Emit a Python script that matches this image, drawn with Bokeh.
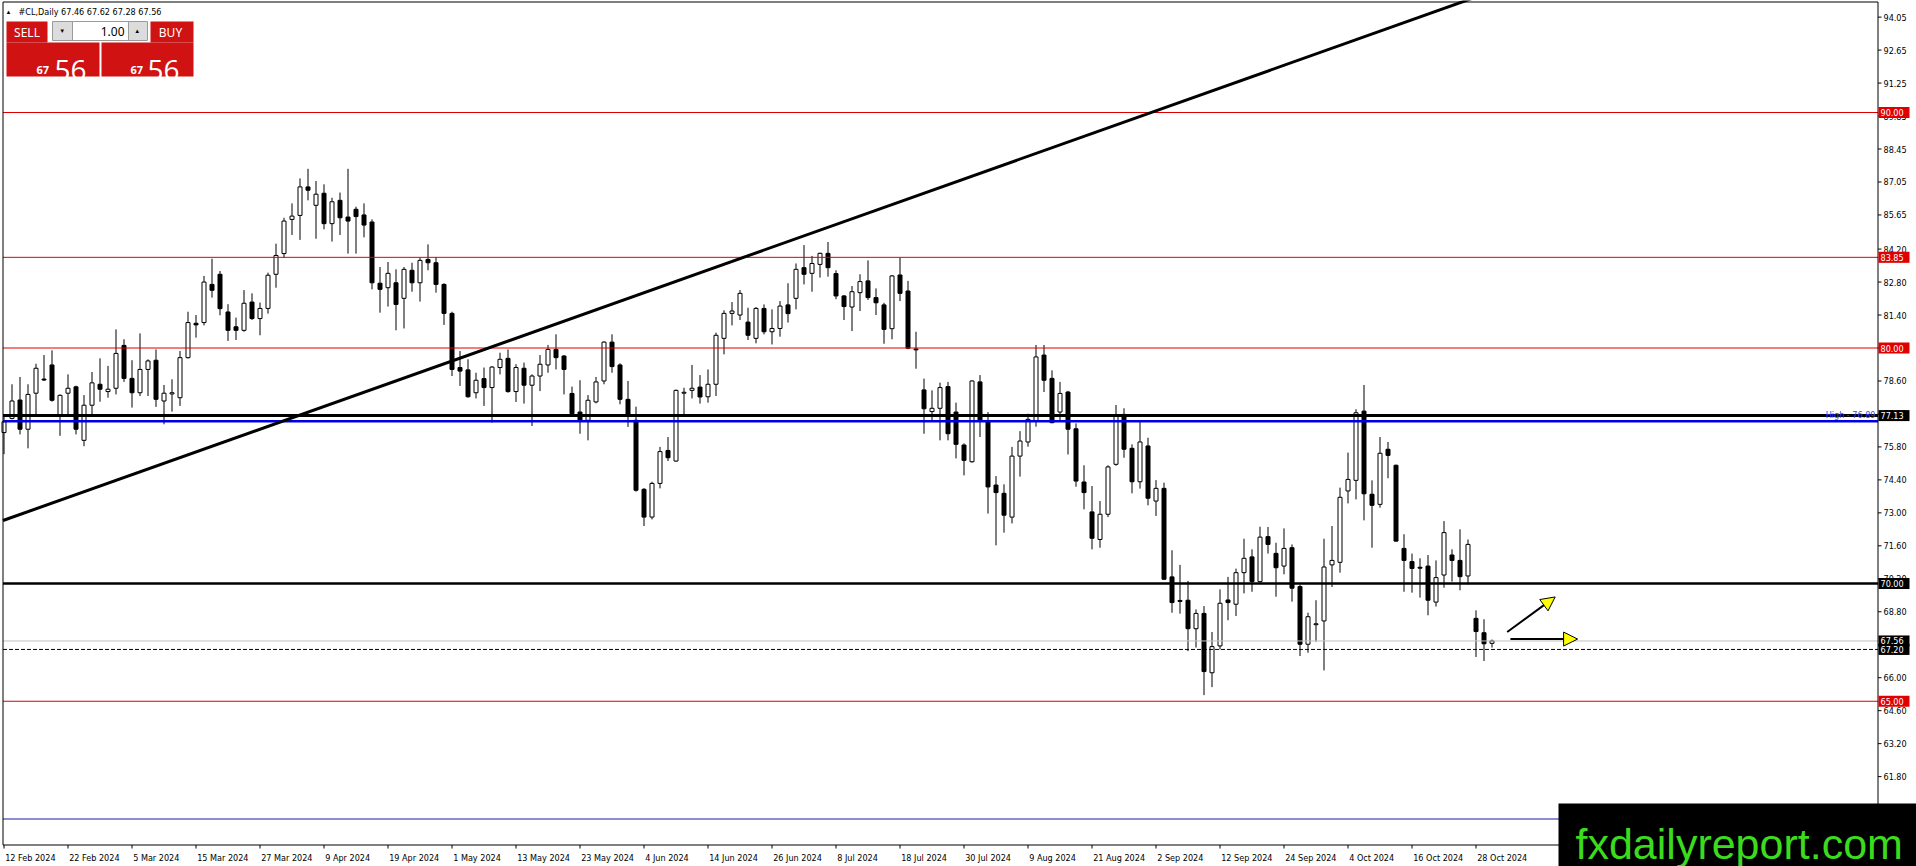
from bokeh.plotting import figure
from bokeh.models import Arrow, NormalHead
from bokeh.core.properties import value
from bokeh.embed import file_html
from bokeh.resources import INLINE

# ---------------- data ----------------
opens = [76.41, 77.01, 77.79, 76.55, 78.08, 78.68, 79.28, 77.15, 78.08, 78.35,
         76.08, 77.57, 78.46, 78.15, 78.29, 80.11, 78.71, 78.10, 79.09, 79.48,
         77.75, 78.05, 77.89, 79.59, 81.05, 81.08, 82.70, 83.13, 81.53, 80.90,
         80.75, 81.95, 81.25, 81.68, 83.13, 84.01, 85.46, 85.63, 86.84, 86.06,
         86.57, 85.28, 86.27, 85.56, 85.89, 85.65, 85.35, 82.75, 82.56, 82.77,
         82.11, 83.30, 82.77, 83.76, 83.62, 82.70, 81.47, 79.17, 79.07, 78.10,
         78.70, 78.32, 79.17, 79.56, 78.15, 79.14, 78.42, 78.81, 79.28, 79.94,
         79.66, 78.07, 77.28, 76.93, 77.71, 78.60, 80.25, 79.28, 77.82, 76.93,
         74.00, 72.82, 74.25, 75.65, 75.20, 78.08, 78.20, 78.34, 77.93, 78.46,
         80.41, 81.47, 81.40, 81.10, 80.41, 81.68, 80.69, 80.83, 81.83, 82.11,
         83.41, 83.17, 83.55, 84.02, 83.16, 82.21, 81.74, 82.35, 82.85, 82.14,
         81.83, 80.82, 83.10, 82.42, 79.96, 78.22, 77.30, 77.44, 78.36, 77.28,
         75.88, 75.17, 78.56, 76.87, 74.18, 73.83, 72.82, 75.41, 76.01, 76.90,
         79.70, 78.71, 77.28, 78.13, 76.57, 74.31, 73.04, 71.87, 72.94, 75.06,
         77.18, 75.74, 74.32, 75.84, 73.50, 74.04, 70.28, 69.28, 69.29, 68.08,
         68.73, 66.21, 67.35, 69.30, 69.12, 70.46, 71.13, 70.08, 71.99, 71.28,
         70.74, 71.52, 69.87, 67.42, 68.25, 68.41, 70.79, 70.90, 73.93, 74.38,
         77.32, 73.79, 73.36, 75.70, 75.02, 71.49, 70.93, 70.69, 70.74, 69.21,
         70.36, 71.21, 70.98, 70.32, 68.52, 67.91, 67.46]
highs = [77.11, 78.46, 78.77, 78.46, 79.33, 79.70, 79.90, 78.03, 78.88, 78.40,
         78.00, 78.98, 79.56, 79.24, 80.79, 80.37, 79.48, 80.62, 79.52, 79.94,
         78.43, 78.67, 79.87, 81.54, 81.40, 83.06, 83.79, 83.27, 81.86, 81.29,
         82.46, 82.32, 81.93, 83.20, 84.43, 85.53, 86.14, 87.20, 87.61, 87.09,
         86.95, 86.38, 86.60, 87.61, 86.00, 86.14, 85.46, 83.44, 83.65, 83.34,
         83.44, 83.62, 83.84, 84.40, 83.86, 82.75, 81.54, 79.87, 79.52, 78.95,
         79.17, 79.23, 79.80, 79.94, 79.31, 79.38, 78.88, 79.70, 80.13, 80.58,
         79.70, 78.36, 78.63, 78.00, 78.77, 80.28, 80.58, 79.35, 78.60, 77.51,
         74.05, 74.32, 75.80, 76.22, 78.24, 78.31, 79.28, 78.85, 79.09, 80.65,
         81.60, 81.95, 82.46, 81.71, 81.74, 81.85, 81.64, 81.99, 82.75, 83.59,
         84.37, 83.91, 84.05, 84.50, 83.30, 82.25, 82.63, 83.13, 83.72, 82.53,
         81.92, 83.10, 83.84, 82.85, 80.69, 78.70, 78.20, 78.53, 78.56, 77.68,
         75.95, 78.63, 78.85, 77.28, 74.56, 74.21, 75.80, 76.47, 77.21, 80.13,
         80.13, 79.05, 78.56, 78.18, 76.80, 75.02, 74.14, 73.50, 75.02, 77.58,
         77.44, 75.91, 76.86, 76.19, 74.39, 74.28, 71.41, 70.79, 70.11, 68.90,
         69.04, 67.94, 69.75, 70.28, 70.63, 71.90, 71.45, 72.41, 72.40, 71.73,
         72.34, 71.66, 69.96, 68.76, 69.29, 71.90, 72.44, 74.07, 75.56, 77.40,
         78.43, 74.38, 76.22, 76.01, 75.05, 72.09, 71.27, 71.07, 71.21, 70.98,
         72.65, 71.45, 72.30, 71.87, 68.86, 68.48, 67.62]
lows = [75.49, 76.97, 76.33, 75.74, 77.18, 78.60, 77.72, 76.27, 77.11, 76.33,
        75.83, 77.18, 77.72, 77.89, 78.03, 78.56, 77.47, 77.96, 77.96, 77.50,
        76.76, 77.30, 77.54, 79.55, 80.44, 80.96, 82.14, 81.39, 80.30, 80.34,
        80.69, 81.19, 80.54, 81.46, 82.56, 83.84, 84.80, 84.59, 86.27, 84.64,
        85.04, 84.52, 84.80, 84.01, 84.01, 84.70, 82.49, 81.50, 81.76, 80.75,
        80.83, 82.39, 81.97, 83.30, 82.35, 80.98, 78.81, 78.39, 77.89, 77.86,
        77.54, 76.83, 78.88, 78.10, 77.71, 77.64, 76.69, 78.17, 78.95, 79.09,
        78.03, 77.15, 76.36, 76.08, 77.65, 78.46, 78.95, 77.61, 76.65, 73.90,
        72.44, 72.72, 74.04, 75.20, 75.17, 77.15, 77.86, 77.64, 77.68, 77.96,
        79.73, 80.96, 81.19, 80.34, 80.20, 80.58, 80.15, 80.48, 81.08, 81.64,
        82.70, 82.39, 82.99, 83.03, 82.07, 81.19, 80.72, 81.57, 82.04, 81.40,
        80.18, 80.37, 81.99, 79.95, 79.12, 76.36, 76.90, 76.08, 76.08, 75.31,
        74.59, 75.13, 76.22, 72.97, 71.62, 72.16, 72.55, 74.54, 75.81, 76.66,
        78.13, 76.80, 76.87, 75.48, 74.11, 73.15, 71.45, 71.52, 72.82, 75.00,
        75.34, 73.83, 74.03, 73.32, 72.87, 70.15, 68.76, 68.72, 67.13, 67.28,
        65.26, 65.60, 67.20, 68.44, 68.62, 69.58, 69.65, 70.03, 71.27, 69.44,
        70.39, 69.23, 66.92, 67.06, 67.53, 66.31, 69.85, 70.46, 73.40, 73.57,
        72.68, 71.52, 73.22, 74.47, 71.78, 69.65, 69.61, 69.40, 68.65, 69.02,
        69.82, 70.08, 69.71, 69.96, 66.88, 66.71, 67.28]
closes = [76.87, 77.75, 76.55, 78.03, 79.14, 78.64, 77.78, 77.99, 78.29, 76.55,
          77.57, 78.52, 78.25, 78.25, 79.77, 78.71, 78.10, 79.09, 79.45, 77.82,
          78.08, 78.10, 79.59, 81.08, 80.98, 82.80, 82.45, 81.67, 80.75, 80.75,
          81.90, 81.25, 81.68, 83.09, 83.93, 85.39, 85.60, 86.84, 86.70, 86.53,
          85.28, 86.21, 85.53, 85.39, 85.58, 85.22, 82.77, 82.49, 83.17, 81.85,
          83.34, 82.77, 83.72, 83.62, 82.70, 81.47, 79.09, 79.02, 77.93, 78.63,
          78.32, 79.19, 79.52, 78.15, 79.17, 78.42, 78.81, 79.31, 79.94, 79.59,
          79.09, 77.21, 76.93, 77.78, 78.56, 80.25, 79.21, 77.82, 77.14, 73.96,
          72.82, 74.25, 75.60, 75.34, 78.20, 78.12, 78.29, 77.92, 78.46, 80.54,
          81.47, 81.57, 82.32, 80.54, 81.68, 80.69, 80.83, 81.78, 81.46, 83.34,
          83.13, 83.59, 84.02, 83.41, 82.21, 81.76, 82.39, 82.82, 82.14, 81.92,
          80.79, 83.06, 82.32, 79.99, 79.92, 77.42, 77.44, 78.32, 76.36, 75.91,
          75.23, 78.60, 76.93, 74.10, 73.86, 72.90, 75.41, 76.05, 76.97, 79.62,
          78.63, 76.83, 78.07, 76.55, 74.35, 73.86, 71.92, 72.94, 74.95, 77.11,
          75.70, 74.32, 76.01, 73.62, 74.04, 70.18, 69.19, 69.24, 68.08, 68.73,
          66.26, 67.32, 69.16, 69.19, 70.46, 71.07, 70.08, 71.97, 71.66, 70.67,
          71.49, 69.80, 67.42, 68.59, 68.29, 70.70, 70.98, 73.66, 74.42, 77.25,
          73.81, 73.32, 75.53, 75.44, 71.80, 70.98, 70.64, 70.65, 69.29, 70.25,
          72.16, 70.98, 70.29, 71.66, 67.96, 67.44, 67.56]

date_bars = [0, 8, 16, 24, 32, 40, 48, 56, 64, 72, 80, 88, 96, 104, 112, 120,
             128, 136, 144, 152, 160, 168, 176, 184]
date_texts = ["12 Feb 2024", "22 Feb 2024", "5 Mar 2024", "15 Mar 2024",
              "27 Mar 2024", "9 Apr 2024", "19 Apr 2024", "1 May 2024",
              "13 May 2024", "23 May 2024", "4 Jun 2024", "14 Jun 2024",
              "26 Jun 2024", "8 Jul 2024", "18 Jul 2024", "30 Jul 2024",
              "9 Aug 2024", "21 Aug 2024", "2 Sep 2024", "12 Sep 2024",
              "24 Sep 2024", "4 Oct 2024", "16 Oct 2024", "28 Oct 2024"]
price_ticks = [94.05, 92.65, 91.25, 89.85, 88.45, 87.05, 85.65, 84.20, 82.80,
               81.40, 80.00, 78.60, 77.20, 75.80, 74.40, 73.00, 71.60, 70.20,
               68.80, 67.40, 66.00, 64.60, 63.20, 61.80, 60.40]
red_levels = [90.00, 83.85, 80.00, 65.00]
black_levels = [77.13, 70.00]
black_widths = [3, 2.5]
high_level = 76.89
low_blue_level = 60.00
bid_price = 67.56
dashed_level = 67.20
trend_bars = [0, 180]
trend_prices = [72.69, 94.42]
arrow_up_bars = [187.9, 193.9]
arrow_up_prices = [67.94, 69.43]
arrow_flat_bars = [188.3, 196.7]
arrow_flat_prices = [67.64, 67.64]
symbol = "#CL,Daily"

# ---------------- layout: the terminal window is drawn in one frame ----------------
W, H = 1916, 866
PX_BAR = 8.0          # pixels per daily bar
PX_USD = 23.55        # pixels per dollar


def bx(px):           # window pixel column -> bar units
    return (px - 3.5) / PX_BAR


def py(pyy):          # window pixel row -> price
    return 80.0 - (pyy - 347.5) / PX_USD


FONT = "DejaVu Sans Condensed, Liberation Sans, sans-serif"
CHART_L, CHART_R, CHART_T, CHART_B = 2.5, 1877.5, 1.5, 844.5

p = figure(width=W, height=H, x_range=(bx(0), bx(W)), y_range=(py(H), py(0)),
           x_axis_location=None, y_axis_location=None, output_backend="svg",
           toolbar_location=None, min_border=0, background_fill_color="white",
           border_fill_color="white")
p.grid.visible = False
p.outline_line_color = None

# candles
idx = list(range(len(opens)))
up = [i for i in idx if closes[i] >= opens[i]]
dn = [i for i in idx if closes[i] < opens[i]]
p.segment(x0=idx, y0=lows, x1=idx, y1=highs, line_color="black", line_width=1)
p.vbar(x=dn, top=[opens[i] for i in dn], bottom=[closes[i] for i in dn],
       width=0.5, fill_color="black", line_color="black", line_width=1)
p.vbar(x=up, top=[closes[i] for i in up], bottom=[opens[i] for i in up],
       width=0.5, fill_color="white", line_color="black", line_width=1)

# horizontal levels (stop at the price scale)
xl, xr = bx(CHART_L), bx(CHART_R)


def hline(level, color, width, dash="solid"):
    p.segment(x0=[xl], x1=[xr], y0=[level], y1=[level], line_color=color,
              line_width=width, line_dash=dash)


hline(bid_price, "#c0c0c0", 1)
hline(dashed_level, "black", 1, "4 2")
for lv in red_levels:
    hline(lv, "#dd0000", 1)
hline(low_blue_level, "#1a1aa8", 1)
hline(high_level, "#0000e0", 2.5)
for lv, lw in zip(black_levels, black_widths):
    hline(lv, "black", lw)

# trend line (ray through its two anchors)
slope = (trend_prices[1] - trend_prices[0]) / (trend_bars[1] - trend_bars[0])
tx = [bx(CHART_L), bx(CHART_R)]
ty = [trend_prices[0] + slope * (x - trend_bars[0]) for x in tx]
p.line(tx, ty, line_color="black", line_width=3)

# arrows
for xs, ys in [(arrow_up_bars, arrow_up_prices), (arrow_flat_bars, arrow_flat_prices)]:
    p.add_layout(Arrow(end=NormalHead(size=14, fill_color="#ffff00", line_color="black",
                                      line_width=1),
                       x_start=xs[0], y_start=ys[0], x_end=xs[1], y_end=ys[1],
                       line_color="black", line_width=2))

# chart border, price scale and time scale
p.segment(x0=[bx(CHART_L), bx(CHART_L), bx(CHART_R), bx(CHART_L)],
          x1=[bx(CHART_R), bx(CHART_L), bx(CHART_R), bx(CHART_R)],
          y0=[py(CHART_T), py(CHART_T), py(CHART_T), py(CHART_B)],
          y1=[py(CHART_T), py(CHART_B), py(CHART_B), py(CHART_B)],
          line_color="black", line_width=1)
n_t = len(price_ticks)
p.segment(x0=[bx(CHART_R)] * n_t, x1=[bx(1881)] * n_t, y0=price_ticks, y1=price_ticks,
          line_color="black", line_width=1)
p.text(x=[bx(1883)] * n_t, y=price_ticks, text=[f"{t:.2f}" for t in price_ticks],
       text_align="left", text_baseline="middle", text_font=value(FONT),
       text_font_size="9px", text_color="black")
n_d = len(date_bars)
p.segment(x0=date_bars, x1=date_bars, y0=[py(CHART_B)] * n_d, y1=[py(848)] * n_d,
          line_color="black", line_width=1)
p.text(x=[b + 0.15 for b in date_bars], y=[py(857.5)] * n_d, text=date_texts,
       text_align="left", text_baseline="alphabetic", text_font=value(FONT),
       text_font_size="9px", text_color="black")

# price tags on the scale
tag_levels = red_levels + black_levels + [bid_price, dashed_level]
tag_colors = ["#e00000"] * len(red_levels) + ["black"] * (len(black_levels) + 2)
half = 5.5 / PX_USD
p.quad(left=[bx(1878)] * len(tag_levels), right=[bx(1909)] * len(tag_levels),
       top=[lv + half for lv in tag_levels], bottom=[lv - half for lv in tag_levels],
       fill_color=tag_colors, line_color=None)
p.text(x=[bx(1880)] * len(tag_levels), y=tag_levels,
       text=[f"{lv:.2f}" for lv in tag_levels], text_align="left",
       text_baseline="middle", text_font=value(FONT), text_font_size="9px",
       text_color="white")

p.text(x=[bx(1875)], y=[py(414)], text=[f"High - {high_level:.2f}"], text_align="right",
       text_baseline="middle", text_font=value(FONT), text_font_size="9px",
       text_color="#4040ff")

# header
last = len(opens) - 1
p.text(x=[bx(8)], y=[py(11)], text=["\u25B2"], text_align="center",
       text_baseline="middle", text_font_size="6px", text_color="black")
p.text(x=[bx(18)], y=[py(11)],
       text=[f"{symbol}  {opens[last]:.2f} {highs[last]:.2f} {lows[last]:.2f} {closes[last]:.2f}"],
       text_align="left", text_baseline="middle", text_font=value(FONT),
       text_font_size="9px", text_color="black")

# one-click trading panel
RED = "#d01212"
p.quad(left=[bx(6), bx(150), bx(6), bx(101)], right=[bx(47), bx(193), bx(99), bx(193)],
       top=[py(21), py(21), py(42), py(42)], bottom=[py(42), py(42), py(76), py(76)],
       fill_color=RED, line_color=None)
p.quad(left=[bx(52)], right=[bx(147)], top=[py(21)], bottom=[py(40)],
       fill_color="#dcdcdc", line_color="#9a9a9a", line_width=1)
p.quad(left=[bx(72)], right=[bx(128)], top=[py(21)], bottom=[py(40)],
       fill_color="white", line_color="#9a9a9a", line_width=1)
p.text(x=[bx(26.5), bx(170)], y=[py(31.5), py(31.5)], text=["SELL", "BUY"],
       text_align="center", text_baseline="middle", text_font=value("Noto Sans"),
       text_font_size="12px", text_color="white")
p.text(x=[bx(124)], y=[py(31)], text=["1.00"], text_align="right",
       text_baseline="middle", text_font=value("Noto Sans"), text_font_size="12px",
       text_color="black")
p.text(x=[bx(61.7), bx(136.7)], y=[py(30.5), py(30.5)], text=["\u25BC", "\u25B2"],
       text_align="center", text_baseline="middle", text_font_size="6px",
       text_color="black")
bid_txt = f"{closes[last]:.2f}"
big_part, small_part = bid_txt[-2:], bid_txt[:2]
p.text(x=[bx(36), bx(130)], y=[py(69.5), py(69.5)], text=[small_part, small_part],
       text_align="left", text_baseline="alphabetic", text_font=value("Noto Sans"),
       text_font_size="11px", text_font_style="bold", text_color="white")
p.text(x=[bx(54), bx(147)], y=[py(69.5), py(69.5)], text=[big_part, big_part],
       text_align="left", text_baseline="alphabetic", text_font=value("Open Sans"),
       text_font_size="28px", text_color="white")

# watermark
p.quad(left=[bx(1558)], right=[bx(W + 2)], top=[py(803)], bottom=[py(H + 2)],
       fill_color="black", line_color=None)
p.text(x=[bx(1575)], y=[py(843)], text=["fxdailyreport.com"], text_align="left",
       text_baseline="alphabetic", text_font=value("Liberation Sans"),
       text_font_size="43px", text_color="#3bdc1e")

open("out.html", "w").write(file_html(p, INLINE))
